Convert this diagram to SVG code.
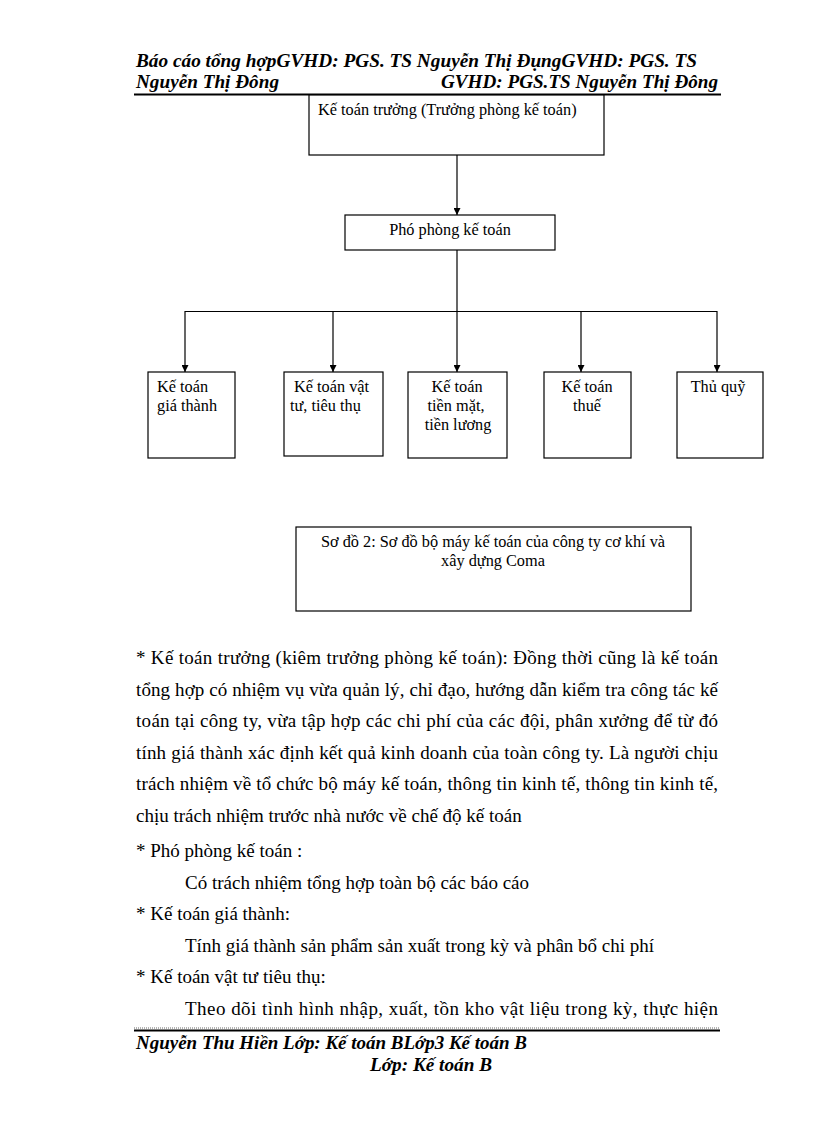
<svg xmlns="http://www.w3.org/2000/svg" width="816" height="1123" viewBox="0 0 816 1123">
<defs>
<marker id="ah" viewBox="0 0 10 10" refX="10" refY="5" markerWidth="7" markerHeight="7" markerUnits="userSpaceOnUse" orient="auto"><path d="M0,0 L10,5 L0,10 z" fill="#000"/></marker>
<style>
.hd{font-family:"Liberation Serif","Times New Roman",serif;font-weight:bold;font-style:italic;font-size:19.5px;fill:#000}
.bx{fill:#fff;stroke:#000;stroke-width:1.2}
.nt{font-family:"Liberation Serif","Times New Roman",serif;font-size:16.3px;fill:#000}
.bd{font-family:"Liberation Serif","Times New Roman",serif;font-size:19px;fill:#000}
.cn{fill:none;stroke:#000;stroke-width:1.2}
</style>
</defs>
<rect width="816" height="1123" fill="#fff"/>
<g id="header">
<text class="hd" x="136" y="67" textLength="561" lengthAdjust="spacingAndGlyphs">Báo cáo tổng hợpGVHD: PGS. TS Nguyễn Thị ĐụngGVHD: PGS. TS</text>
<text class="hd" x="136" y="88" textLength="143" lengthAdjust="spacingAndGlyphs">Nguyễn Thị Đông</text>
<text class="hd" x="441" y="88" textLength="277" lengthAdjust="spacingAndGlyphs">GVHD: PGS.TS Nguyễn Thị Đông</text>
<line x1="134" y1="94.5" x2="721" y2="94.5" stroke="#000" stroke-width="2"/>
</g>
<g id="connectors">
<line class="cn" x1="457" y1="155" x2="457" y2="215" marker-end="url(#ah)"/>
<line class="cn" x1="457" y1="250" x2="457" y2="311"/>
<line class="cn" x1="185" y1="311.5" x2="717" y2="311.5"/>
<line class="cn" x1="185" y1="311" x2="185" y2="372" marker-end="url(#ah)"/>
<line class="cn" x1="333" y1="311" x2="333" y2="372" marker-end="url(#ah)"/>
<line class="cn" x1="457" y1="311" x2="457" y2="372" marker-end="url(#ah)"/>
<line class="cn" x1="581" y1="311" x2="581" y2="372" marker-end="url(#ah)"/>
<line class="cn" x1="717" y1="311" x2="717" y2="372" marker-end="url(#ah)"/>
</g>
<g id="node-ketoantruong">
<rect class="bx" x="309" y="95" width="295" height="60"/>
<text class="nt" x="318" y="115">Kế toán trưởng (Trưởng phòng kế toán)</text>
</g>
<g id="node-phophong">
<rect class="bx" x="345" y="215" width="210" height="35"/>
<text class="nt" x="450" y="235" text-anchor="middle">Phó phòng kế toán</text>
</g>
<g id="node-giathanh">
<rect class="bx" x="148" y="372" width="87" height="86"/>
<text class="nt" x="157" y="392">Kế toán</text>
<text class="nt" x="157" y="411">giá thành</text>
</g>
<g id="node-vattu">
<rect class="bx" x="284" y="372" width="99" height="84"/>
<text class="nt" x="294" y="392">Kế toán vật</text>
<text class="nt" x="290" y="411">tư, tiêu thụ</text>
</g>
<g id="node-tienmat">
<rect class="bx" x="408" y="372" width="99" height="86"/>
<text class="nt" x="457" y="392" text-anchor="middle">Kế toán</text>
<text class="nt" x="456" y="411" text-anchor="middle">tiền mặt,</text>
<text class="nt" x="458" y="430" text-anchor="middle">tiền lương</text>
</g>
<g id="node-thue">
<rect class="bx" x="544" y="372" width="87" height="86"/>
<text class="nt" x="587" y="392" text-anchor="middle">Kế toán</text>
<text class="nt" x="587" y="411" text-anchor="middle">thuế</text>
</g>
<g id="node-thuquy">
<rect class="bx" x="677" y="372" width="86" height="86"/>
<text class="nt" x="718" y="392" text-anchor="middle">Thủ quỹ</text>
</g>
<g id="caption">
<rect class="bx" x="296" y="527" width="395" height="84"/>
<text class="nt" x="493" y="547" text-anchor="middle">Sơ đồ 2: Sơ đồ bộ máy kế toán của công ty cơ khí và</text>
<text class="nt" x="493" y="566" text-anchor="middle">xây dựng Coma</text>
</g>
<g id="body">
<text class="bd" x="136" y="664" textLength="582" lengthAdjust="spacing">* Kế toán trưởng (kiêm trưởng phòng kế toán): Đồng thời cũng là kế toán</text>
<text class="bd" x="136" y="695.6" textLength="582" lengthAdjust="spacing">tổng hợp có nhiệm vụ vừa quản lý, chỉ đạo, hướng dẫn kiểm tra công tác kế</text>
<text class="bd" x="136" y="727.2" textLength="582" lengthAdjust="spacing">toán tại công ty, vừa tập hợp các chi phí của các đội, phân xưởng để từ đó</text>
<text class="bd" x="136" y="758.8" textLength="582" lengthAdjust="spacing">tính giá thành xác định kết quả kinh doanh của toàn công ty. Là người chịu</text>
<text class="bd" x="136" y="790.4" textLength="582" lengthAdjust="spacing">trách nhiệm về tổ chức bộ máy kế toán, thông tin kinh tế, thông tin kinh tế,</text>
<text class="bd" x="136" y="822">chịu trách nhiệm trước nhà nước về chế độ kế toán</text>
<text class="bd" x="136" y="857">* Phó phòng kế toán :</text>
<text class="bd" x="185" y="888.6">Có trách nhiệm tổng hợp toàn bộ các báo cáo</text>
<text class="bd" x="136" y="920.2">* Kế toán giá thành:</text>
<text class="bd" x="185" y="951.8">Tính giá thành sản phẩm sản xuất trong kỳ và phân bổ chi phí</text>
<text class="bd" x="136" y="983.4">* Kế toán vật tư tiêu thụ:</text>
<text class="bd" x="185" y="1015" textLength="533" lengthAdjust="spacing">Theo dõi tình hình nhập, xuất, tồn kho vật liệu trong kỳ, thực hiện</text>
</g>
<g id="footer">
<line x1="134" y1="1028" x2="720" y2="1028" stroke="#000" stroke-width="0.6" stroke-dasharray="1,1"/>
<line x1="134" y1="1030.5" x2="720" y2="1030.5" stroke="#000" stroke-width="2"/>
<text class="hd" x="136" y="1049" textLength="391" lengthAdjust="spacingAndGlyphs">Nguyễn Thu Hiền Lớp: Kế toán BLớp3 Kế toán B</text>
<text class="hd" x="370" y="1071" textLength="122" lengthAdjust="spacingAndGlyphs">Lớp: Kế toán B</text>
</g>
</svg>
